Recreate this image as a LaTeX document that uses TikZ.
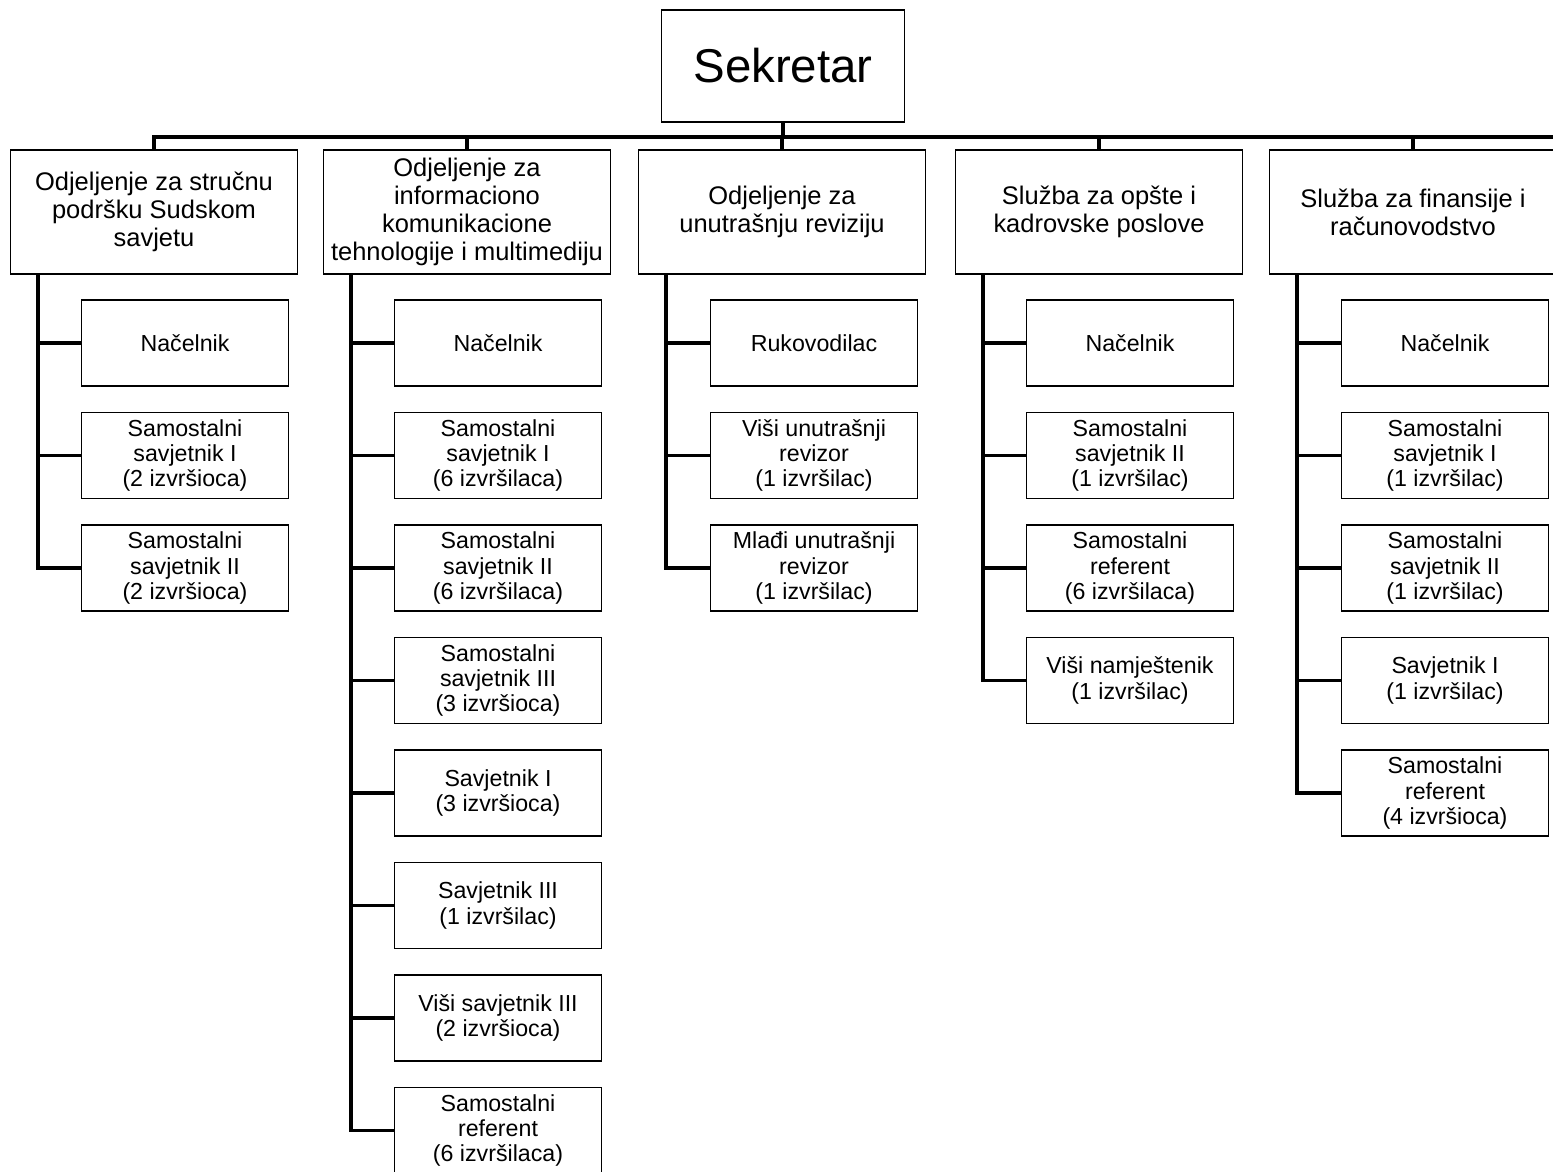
\documentclass[tikz,border=0pt]{standalone}
\usepackage{fontspec}
\setmainfont{Liberation Sans}
\usepackage{tikz}
\tikzstyle{box}=[draw,line width=1pt,inner sep=1pt,align=center]
\tikzstyle{boss}=[box,minimum width=4.86cm,minimum height=2.24cm,font=\fontsize{27}{30}\selectfont]
\tikzstyle{unit}=[box,minimum width=5.74cm,minimum height=2.48cm,font=\fontsize{14.5}{16}\selectfont]
\tikzstyle{post}=[box,minimum width=4.14cm,minimum height=1.72cm,font=\fontsize{13.2}{14.3}\selectfont]
\tikzstyle{link}=[line width=2.2pt]

\begin{document}
\begin{tikzpicture}[x=0.02cm,y=-0.02cm]
        \def\W{1553}
        \def\H{1172}
        \def\dy{112.5}
        \useasboundingbox (0,0) rectangle (\W,\H);

        \node[boss] (sek) at (783,66) {Sekretar};
        \coordinate (bus) at (783,137);
        \coordinate (busend) at (\W,137);

        % odjeljenja i sluzbe
        \node[unit] (d1) at (154,212) {Odjeljenje za stručnu\\podršku Sudskom\\savjetu};
        \node[unit] (d2) at (467,212) {Odjeljenje za\\informaciono\\komunikacione\\tehnologije i multimediju};
        \node[unit] (d3) at (782,212) {Odjeljenje za\\unutrašnju reviziju};
        \node[unit] (d4) at (1099,212) {Služba za opšte i\\kadrovske poslove};
        \node[unit] (d5) at (1413,212) {Služba za finansije i\\računovodstvo};

        % radna mjesta
        \foreach \t [count=\i] in {{Načelnik},
            {Samostalni\\savjetnik I\\(2 izvršioca)},
            {Samostalni\\savjetnik II\\(2 izvršioca)}}
            \node[post] (d1c\i) at (185,{343+(\i-1)*\dy}) {\t};
        \foreach \t [count=\i] in {{Načelnik},
            {Samostalni\\savjetnik I\\(6 izvršilaca)},
            {Samostalni\\savjetnik II\\(6 izvršilaca)},
            {Samostalni\\savjetnik III\\(3 izvršioca)},
            {Savjetnik I\\(3 izvršioca)},
            {Savjetnik III\\(1 izvršilac)},
            {Viši savjetnik III\\(2 izvršioca)},
            {Samostalni\\referent\\(6 izvršilaca)}}
            \node[post] (d2c\i) at (498,{343+(\i-1)*\dy}) {\t};
        \foreach \t [count=\i] in {{Rukovodilac},
            {Viši unutrašnji\\revizor\\(1 izvršilac)},
            {Mlađi unutrašnji\\revizor\\(1 izvršilac)}}
            \node[post] (d3c\i) at (814,{343+(\i-1)*\dy}) {\t};
        \foreach \t [count=\i] in {{Načelnik},
            {Samostalni\\savjetnik II\\(1 izvršilac)},
            {Samostalni\\referent\\(6 izvršilaca)},
            {Viši namještenik\\(1 izvršilac)}}
            \node[post] (d4c\i) at (1130,{343+(\i-1)*\dy}) {\t};
        \foreach \t [count=\i] in {{Načelnik},
            {Samostalni\\savjetnik I\\(1 izvršilac)},
            {Samostalni\\savjetnik II\\(1 izvršilac)},
            {Savjetnik I\\(1 izvršilac)},
            {Samostalni\\referent\\(4 izvršioca)}}
            \node[post] (d5c\i) at (1445,{343+(\i-1)*\dy}) {\t};

        % veze
        \draw[link] (sek.south) -- (sek.south |- bus);
        \draw[link] (d1.north) -- (d1.north |- bus) -- (busend);
        \foreach \d/\n in {1/3,2/8,3/3,4/4,5/5} {
            \draw[link] (d\d.north) -- (d\d.north |- bus);
            \draw[link] (d\d.south west) ++(28,0) coordinate (d\d s) |- (d\d c\n.west);
            \foreach \i in {1,...,\n}
                \draw[link] (d\d s |- d\d c\i.west) -- (d\d c\i.west);
        }
    \end{tikzpicture}
\end{document}
